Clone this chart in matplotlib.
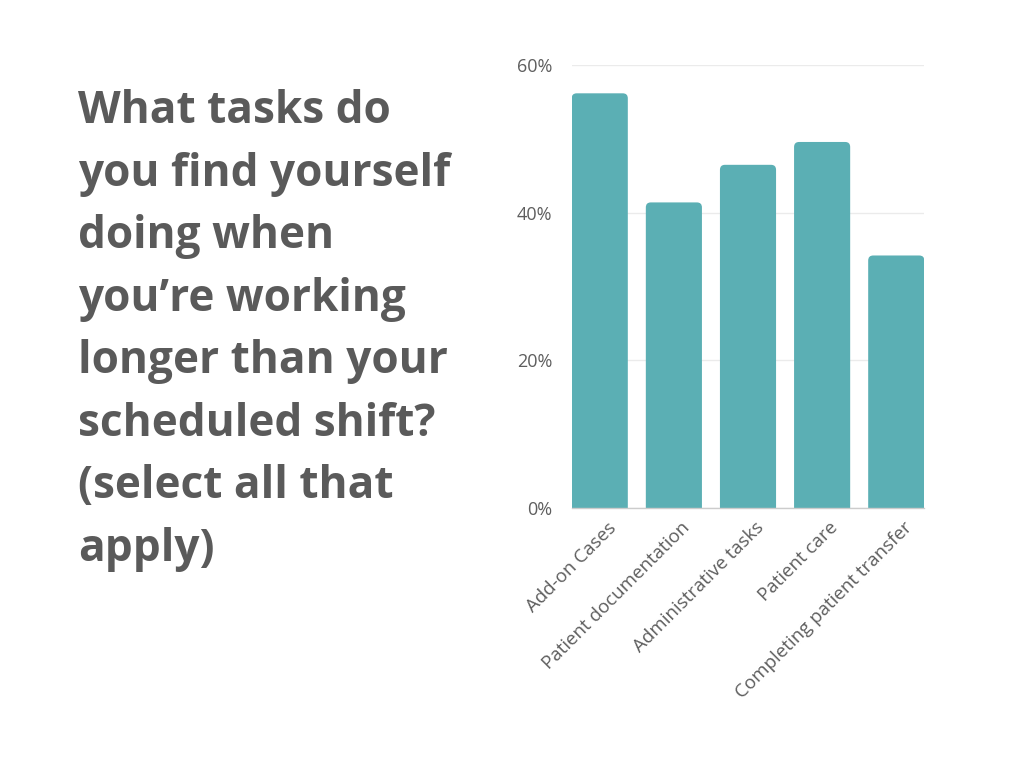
import matplotlib
matplotlib.use("Agg")
import matplotlib.pyplot as plt
from matplotlib.patches import FancyBboxPatch
from matplotlib.transforms import ScaledTranslation

categories = ["Add-on Cases", "Patient documentation", "Administrative tasks",
              "Patient care", "Completing patient transfer"]
values = [56.2, 41.4, 46.5, 49.6, 34.2]
yticks = [0, 20, 40, 60]
ytick_labels = ["0%", "20%", "40%", "60%"]
title_lines = ["What tasks do", "you find yourself", "doing when",
               "you\u2019re working", "longer than your", "scheduled shift?",
               "(select all that", "apply)"]

W, H = 1024, 768
fig = plt.figure(figsize=(W / 100, H / 100), dpi=100)
fig.patch.set_facecolor("white")

# title block
for i, line in enumerate(title_lines):
    y_px = 123.3 + i * 62.5
    fig.text(78 / W, 1 - y_px / H, line, family="Open Sans", fontweight="bold",
             fontsize=31.8, color="#5a5a5a", va="baseline", ha="left")

left, right, top, bottom = 571.7, 924.3, 65.3, 507.6
ax = fig.add_axes([left / W, 1 - bottom / H, (right - left) / W, (bottom - top) / H])

bw = 0.757
xs = list(range(len(categories)))
ax.set_xlim(-bw / 2, len(categories) - 1 + bw / 2)
ax.set_ylim(0, 60)

bars = ax.bar(xs, values, width=bw, color="#5bafb4")
px_x = (right - left) / (ax.get_xlim()[1] - ax.get_xlim()[0])
px_y = (bottom - top) / 60.0
r_px = 5
for b in bars:
    x0, w, h = b.get_x(), b.get_width(), b.get_height()
    b.set_visible(False)
    p = FancyBboxPatch((x0, -2), w, h + 2,
                       boxstyle=f"round,pad=0,rounding_size={r_px / px_x}",
                       mutation_aspect=(px_x / px_y),
                       facecolor="#5bafb4", edgecolor="none", zorder=3, clip_on=True)
    ax.add_patch(p)

ax.set_yticks(yticks)
ax.set_yticklabels(ytick_labels, family="Open Sans", fontsize=13,
                   color="#5e5e5e")
ax.yaxis.grid(True, color="#ebebeb", linewidth=1)
ax.set_axisbelow(True)
ax.tick_params(axis="y", length=0, pad=14)
ax.tick_params(axis="x", length=0, pad=8)
ax.set_xticks(xs)
ax.set_xticklabels(categories, rotation=45, ha="right", rotation_mode="anchor",
                   family="Open Sans", fontsize=13.5, color="#5e5e5e")
offset = ScaledTranslation(7 / 100, 0, fig.dpi_scale_trans)
for lab in ax.get_xticklabels():
    lab.set_transform(lab.get_transform() + offset)
for s in ["top", "right", "left"]:
    ax.spines[s].set_visible(False)
ax.spines["bottom"].set_color("#cccccc")
ax.spines["bottom"].set_linewidth(1)
ax.spines["bottom"].set_zorder(4)

fig.savefig("out.png", dpi=100, facecolor="white")
